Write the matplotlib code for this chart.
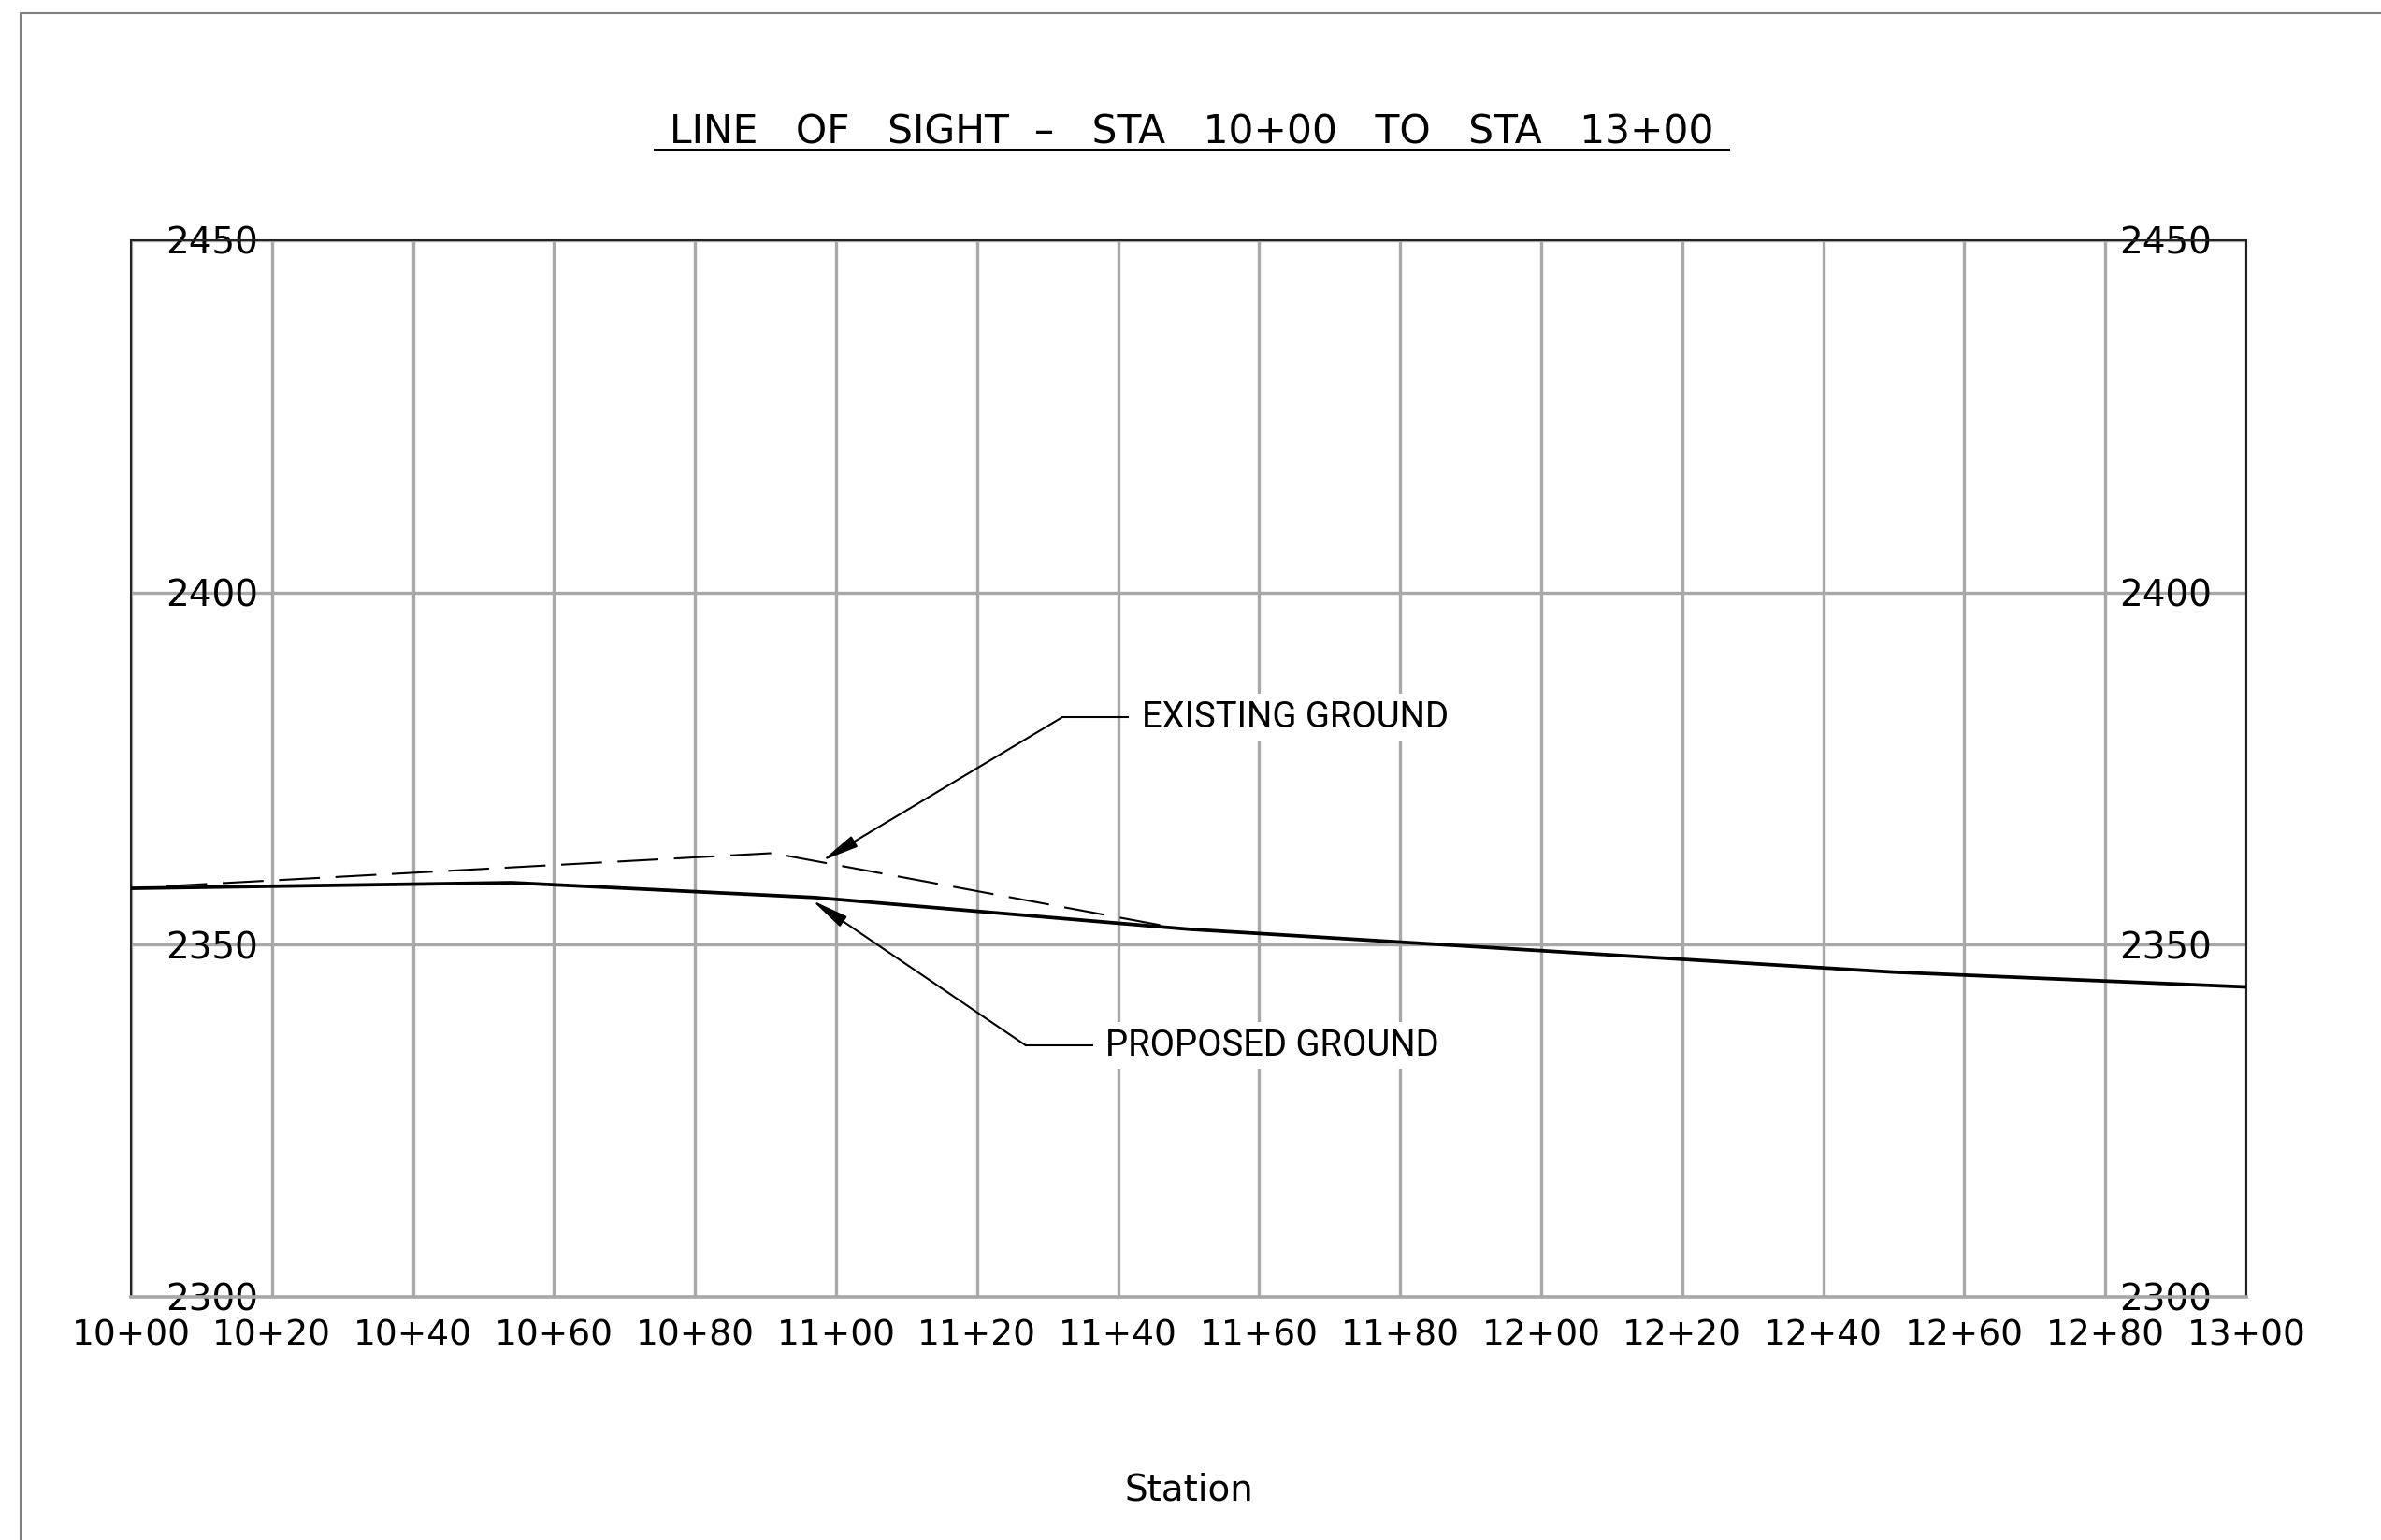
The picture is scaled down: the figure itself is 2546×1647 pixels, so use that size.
import matplotlib.pyplot as plt
from matplotlib.lines import Line2D

plt.rcParams['font.family'] = ['DejaVu Sans']

# station ticks (ft) and their labels
stations = [1000, 1020, 1040, 1060, 1080, 1100, 1120, 1140, 1160, 1180,
            1200, 1220, 1240, 1260, 1280, 1300]
station_labels = ["10+00", "10+20", "10+40", "10+60", "10+80", "11+00",
                  "11+20", "11+40", "11+60", "11+80", "12+00", "12+20",
                  "12+40", "12+60", "12+80", "13+00"]
elev_ticks = [2300, 2350, 2400, 2450]

# ground profiles
proposed_sta = [1000, 1054, 1097, 1150, 1250, 1300]
proposed_elev = [2358.0, 2358.8, 2356.7, 2352.2, 2346.1, 2344.0]
existing_sta = [1005, 1091, 1148]
existing_elev = [2358.3, 2363.0, 2352.4]

callout_font = ['Roboto', 'DejaVu Sans']

fig = plt.figure(figsize=(25.46, 16.47), dpi=100)
ax = fig.add_axes([0.05499, 0.15787, 0.88845, 0.68609])

ax.plot(proposed_sta, proposed_elev, color='black', lw=2.7, zorder=3)
ax.plot(existing_sta, existing_elev, color='black', lw=1.5,
        linestyle=(0, (21, 8)), zorder=3)

ax.set_xlim(1000, 1300)
ax.set_ylim(2300, 2450)
ax.set_xticks(stations, station_labels)
ax.set_yticks(elev_ticks)
ax.grid(True, color='#a8a8a8', lw=2.4)
ax.set_axisbelow(True)
ax.tick_params(axis='x', length=0, pad=17, labelsize=27)
ax.tick_params(axis='y', length=0, pad=-98, labelsize=28,
               left=True, right=True, labelleft=True, labelright=True)
ax.set_xlabel('Station', fontsize=28, labelpad=92)

for side in ['left', 'right', 'top']:
    ax.spines[side].set_color('#222222')
    ax.spines[side].set_linewidth(1.5)
ax.spines['bottom'].set_color('#a8a8a8')
ax.spines['bottom'].set_linewidth(2.6)

# callouts
ax.text(1143.4, 2382.3, 'EXISTING GROUND', ha='left', va='center',
        fontsize=27.5, family=callout_font,
        bbox=dict(facecolor='white', edgecolor='none', pad=5))
ax.plot([1132.1, 1141.4], [2382.3, 2382.3], color='black', lw=1.5)
ax.annotate('', xy=(1098.0, 2361.9), xytext=(1132.1, 2382.3),
            arrowprops=dict(arrowstyle='-|>,head_length=2.4,head_width=0.4',
                            color='black', lw=1.5, shrinkA=0, shrinkB=0,
                            mutation_scale=10))

ax.text(1138.2, 2335.7, 'PROPOSED GROUND', ha='left', va='center',
        fontsize=27.5, family=callout_font,
        bbox=dict(facecolor='white', edgecolor='none', pad=5))
ax.plot([1126.9, 1136.3], [2335.7, 2335.7], color='black', lw=1.5)
ax.annotate('', xy=(1096.6, 2356.3), xytext=(1126.9, 2335.7),
            arrowprops=dict(arrowstyle='-|>,head_length=2.4,head_width=0.4',
                            color='black', lw=1.5, shrinkA=0, shrinkB=0,
                            mutation_scale=10))

# title with underline
fig.text(0.5004, 0.9071,
         'LINE   OF   SIGHT  \u2013   STA   10+00   TO   STA   13+00',
         ha='center', va='baseline', fontsize=30.5)
fig.add_artist(Line2D([0.2749, 0.7259], [0.90285, 0.90285],
                      color='black', lw=2.2))

# sheet border
fig.add_artist(Line2D([22 / 2546, 22 / 2546, 1.0], [0.0, 1 - 14 / 1647, 1 - 14 / 1647],
                      color='#7f7f7f', lw=1.5))

fig.savefig('out.png', dpi=100)
